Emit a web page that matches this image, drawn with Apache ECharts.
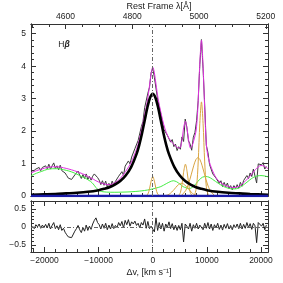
<!DOCTYPE html>
<html><head><meta charset="utf-8">
<script src="https://cdn.jsdelivr.net/npm/echarts@6.0.0/dist/echarts.min.js"></script>
<style>html,body{margin:0;padding:0;background:#fff}#c{width:283px;height:283px}</style>
</head><body><div id="c"></div>
<script>
// ---------- data ----------
const V_MIN = -22500, V_MAX = 21300;
const LAMBDA0 = 4861.33, C_KMS = 299792.458;
const FLUX_MIN = 0, FLUX_MAX = 5.3;
const RES_MIN = -0.7, RES_MAX = 0.72;

// observed spectrum sampled every 300 km/s from -22200
const VEL_START = -22200, VEL_STEP = 300;
const obsFlux = [0.75,0.70,0.83,0.78,0.88,0.78,0.88,0.83,0.93,0.84,
0.98,0.83,0.93,1.02,0.85,0.93,0.81,0.95,0.78,0.83,
0.71,0.63,0.55,0.51,0.51,0.54,0.65,0.70,0.77,0.64,
0.54,0.66,0.54,0.68,0.51,0.60,0.49,0.61,0.68,0.73,
0.57,0.49,0.35,0.47,0.33,0.46,0.27,0.39,0.29,0.46,
0.34,0.45,0.43,0.61,0.57,0.75,0.64,0.92,0.87,1.08,
0.99,1.20,1.25,1.46,1.48,1.71,1.77,2.14,2.30,2.72,
2.71,3.17,3.35,3.80,3.94,3.66,3.70,2.98,2.94,2.52,
2.46,2.04,2.08,1.87,1.92,1.66,1.74,1.52,1.60,1.40,
1.52,1.44,1.82,1.68,2.37,2.12,1.70,1.60,1.41,1.81,
1.96,2.32,2.94,4.05,4.82,3.92,2.80,1.56,1.34,0.97,
0.97,0.68,0.72,0.55,0.60,0.39,0.47,0.29,0.42,0.29,
0.40,0.23,0.32,0.19,0.32,0.23,0.35,0.24,0.42,0.30,
0.48,0.42,0.63,0.54,0.71,0.60,0.83,0.83,0.40,0.99,
0.99,0.96,1.03,0.83,0.91];
const residual = [0.02,-0.05,0.06,0.00,0.08,-0.04,0.05,-0.02,0.07,-0.03,
0.10,-0.06,0.04,0.12,-0.05,0.03,-0.08,0.06,-0.10,-0.04,
-0.15,-0.22,-0.28,-0.31,-0.30,-0.25,-0.12,-0.05,0.04,-0.08,
-0.16,-0.02,-0.12,0.05,-0.10,0.02,-0.07,0.08,0.18,0.25,
0.12,0.06,-0.06,0.08,-0.04,0.10,-0.08,0.05,-0.06,0.09,
-0.05,0.04,-0.02,0.12,0.03,0.15,-0.03,0.18,0.06,0.20,
0.02,0.14,0.08,0.16,0.04,0.10,-0.03,0.12,0.05,0.22,
-0.04,0.15,-0.05,0.02,-0.03,-0.14,0.25,-0.10,0.12,-0.06,
0.10,-0.12,0.08,-0.02,0.14,-0.05,0.09,-0.08,0.05,-0.10,
0.04,-0.08,0.10,-0.42,0.08,0.02,-0.06,0.10,-0.12,0.06,
-0.04,0.10,-0.06,0.05,0.02,-0.08,0.10,-0.04,0.12,-0.06,
0.08,-0.10,0.06,-0.03,0.10,-0.07,0.05,-0.09,0.07,-0.04,
0.09,-0.06,0.04,-0.08,0.06,-0.03,0.08,-0.05,0.10,-0.06,
0.07,-0.04,0.12,-0.02,0.09,-0.07,0.10,0.03,-0.44,0.12,
0.08,0.02,0.10,-0.08,0.05];

// total model (magenta)
const totalVel = [-22500,-21500,-20500,-19500,-18500,-17500,-16500,-15500,-14500,-13500,-12500,-11500,-11000,-10500,-10000,-9000,-8000,-7000,-6000,-5000,-4000,-3000,-2500,-2000,-1500,-1000,-600,-300,0,300,600,1000,1500,2000,2500,3000,3500,4000,4500,5000,5400,5700,6043,6350,6650,6950,7250,7600,8000,8300,8600,9005,9300,9600,9900,10200,10600,11000,11500,12000,13000,14000,15000,16000,17000,18000,19000,20000,20600,21300];
const totalFlux = [0.71,0.78,0.83,0.88,0.90,0.90,0.87,0.83,0.78,0.72,0.65,0.56,0.52,0.47,0.43,0.37,0.35,0.41,0.54,0.76,1.03,1.44,1.73,2.09,2.50,2.92,3.40,3.78,3.97,3.80,3.45,2.99,2.58,2.22,1.96,1.78,1.66,1.58,1.50,1.48,1.72,2.10,2.30,2.06,1.70,1.48,1.53,1.72,2.00,2.60,3.75,4.80,4.00,2.70,1.60,1.22,0.98,0.80,0.62,0.50,0.36,0.29,0.26,0.30,0.44,0.62,0.82,0.94,0.92,0.84];

// broad H-beta (black)
const broadVel = [-22500,-20000,-18000,-16000,-14000,-12000,-10000,-9000,-8000,-7000,-6000,-5000,-4000,-3000,-2500,-2000,-1500,-1000,-500,0,500,1000,1500,2000,2500,3000,4000,5000,6000,7000,8000,9000,10000,12000,14000,16000,18000,21300];
const broadFlux = [0.04,0.05,0.06,0.08,0.10,0.13,0.18,0.22,0.27,0.35,0.46,0.63,0.89,1.29,1.57,1.92,2.32,2.72,3.03,3.15,3.03,2.72,2.32,1.92,1.57,1.29,0.89,0.63,0.46,0.35,0.27,0.22,0.18,0.13,0.10,0.08,0.06,0.04];

// Fe II template (green)
const feVel = [-22500,-21500,-20500,-19500,-18500,-17500,-16500,-15500,-14500,-13500,-12500,-11500,-11000,-10500,-10000,-9500,-8500,-7000,-5500,-4000,-2500,-1500,-500,500,1500,2500,3200,3800,4400,5000,5600,6200,6800,7400,8000,8600,9200,9800,10400,11000,11600,12200,12800,13400,14000,14600,15200,15800,16400,17000,17600,18200,18800,19400,20000,20600,21300];
const feFlux = [0.62,0.70,0.76,0.82,0.84,0.84,0.81,0.77,0.71,0.63,0.55,0.45,0.37,0.26,0.18,0.14,0.12,0.115,0.12,0.13,0.15,0.17,0.20,0.24,0.29,0.38,0.44,0.47,0.44,0.37,0.29,0.25,0.23,0.28,0.38,0.50,0.58,0.60,0.58,0.52,0.45,0.38,0.32,0.27,0.24,0.22,0.22,0.24,0.30,0.37,0.45,0.53,0.59,0.62,0.63,0.62,0.59];

// narrow / [OIII] components (orange)
const hbNarrowVel = [-1300,-900,-600,-300,0,300,600,900,1300];
const hbNarrowFlux = [0,0.06,0.22,0.46,0.60,0.46,0.22,0.06,0];
const o3aNarrowVel = [4700,5100,5400,5700,6040,6350,6650,6950,7350];
const o3aNarrowFlux = [0,0.10,0.35,0.73,0.98,0.75,0.36,0.10,0];
const o3aWingVel = [2100,3000,3500,4000,4500,5000,5300,5700,6100,6600,7100,7600,8500];
const o3aWingFlux = [0,0.05,0.12,0.21,0.31,0.38,0.39,0.37,0.31,0.22,0.12,0.05,0];
const o3bNarrowVel = [7700,8100,8400,8700,9005,9300,9600,9900,10300];
const o3bNarrowFlux = [0,0.29,1.05,2.24,2.90,2.24,1.05,0.29,0];
const o3bWingVel = [5200,6100,6600,7100,7600,8000,8350,8700,9100,9600,10100,10600,11500];
const o3bWingFlux = [0,0.17,0.37,0.65,0.95,1.13,1.18,1.13,0.95,0.65,0.37,0.17,0];

// continuum (blue)
const contVel = [V_MIN, V_MAX];
const contFlux = [0, 0];

// ---------- build ----------
const pairs = (xs, ys) => xs.map((x, i) => [x, ys[i]]);
const obsVel = obsFlux.map((_, i) => VEL_START + i * VEL_STEP);
const lamMin = LAMBDA0 * (1 + V_MIN / C_KMS), lamMax = LAMBDA0 * (1 + V_MAX / C_KMS);

const FONT = 'Liberation Sans';
const AX = '#333';
const lbl = {fontFamily: FONT, fontSize: 8.5, color: '#222'};
const minus = s => String(s).replace('-', '\u2212');
const isMult = (v, m) => Math.abs(v / m - Math.round(v / m)) < 1e-6;

function xAx(grid, pos, min, max, step, len, labelStep, margin) {
  return {
    type: 'value', gridIndex: grid, position: pos, min, max,
    minInterval: step, maxInterval: step, splitNumber: Math.round((max - min) / step),
    axisLine: {show: true, onZero: false, lineStyle: {color: AX, width: 1}},
    axisTick: {show: true, inside: true, length: len, lineStyle: {color: AX}},
    splitLine: {show: false},
    axisLabel: labelStep ? Object.assign({show: true, margin: margin,
      formatter: v => isMult(v, labelStep) ? minus(Math.round(v)) : ''}, lbl) : {show: false}
  };
}
function yAx(grid, pos, min, max, step, len, labelStep) {
  return {
    type: 'value', gridIndex: grid, position: pos, min, max,
    minInterval: step, maxInterval: step, splitNumber: Math.round((max - min) / step),
    axisLine: {show: true, onZero: false, lineStyle: {color: AX, width: 1}},
    axisTick: {show: true, inside: true, length: len, lineStyle: {color: AX}},
    splitLine: {show: false},
    axisLabel: labelStep ? Object.assign({show: true, margin: 5,
      formatter: v => isMult(v, labelStep) ? minus(+v.toFixed(1)) : ''}, lbl) : {show: false}
  };
}

const xAxis = [
  xAx(0, 'bottom', V_MIN, V_MAX, 2000, 3),
  xAx(0, 'bottom', V_MIN, V_MAX, 10000, 5),
  xAx(0, 'top', lamMin, lamMax, 50, 3),
  xAx(0, 'top', lamMin, lamMax, 200, 5, 200, 3),
  xAx(1, 'top', V_MIN, V_MAX, 2000, 3),
  xAx(1, 'top', V_MIN, V_MAX, 10000, 5),
  xAx(1, 'bottom', V_MIN, V_MAX, 2000, 3),
  xAx(1, 'bottom', V_MIN, V_MAX, 10000, 5, 10000, 4)
];
const yAxis = [
  yAx(0, 'left', FLUX_MIN, FLUX_MAX, 1, 5, 1),
  yAx(0, 'left', FLUX_MIN, FLUX_MAX, 0.2, 3),
  yAx(0, 'right', FLUX_MIN, FLUX_MAX, 1, 5),
  yAx(0, 'right', FLUX_MIN, FLUX_MAX, 0.2, 3),
  yAx(1, 'left', RES_MIN, RES_MAX, 0.5, 5, 0.5),
  yAx(1, 'left', RES_MIN, RES_MAX, 0.1, 3),
  yAx(1, 'right', RES_MIN, RES_MAX, 0.5, 5),
  yAx(1, 'right', RES_MIN, RES_MAX, 0.1, 3)
];

const dashDot = {color: '#666', width: 1, type: [4, 2, 1, 2]};
function line(name, xs, ys, color, width, extra) {
  return Object.assign({
    name, type: 'line', xAxisIndex: 1, yAxisIndex: 0, data: pairs(xs, ys),
    showSymbol: false, symbol: 'none', smooth: 0.3, silent: true,
    lineStyle: {color, width}, z: 3
  }, extra || {});
}
const ORANGE = '#d9a441';
const series = [
  line('obs', obsVel, obsFlux, '#3a3a3a', 1, {smooth: false,
    markLine: {silent: true, symbol: 'none', label: {show: false}, lineStyle: dashDot, data: [{xAxis: 0}]}}),
  line('total', totalVel, totalFlux, '#e032e0', 1),
  line('fe', feVel, feFlux, '#44ee44', 1),
  line('hbn', hbNarrowVel, hbNarrowFlux, ORANGE, 1),
  line('o3an', o3aNarrowVel, o3aNarrowFlux, ORANGE, 1),
  line('o3aw', o3aWingVel, o3aWingFlux, ORANGE, 1),
  line('o3bn', o3bNarrowVel, o3bNarrowFlux, ORANGE, 1),
  line('o3bw', o3bWingVel, o3bWingFlux, ORANGE, 1),
  line('broad', broadVel, broadFlux, '#000', 2.6),
  line('cont', contVel, contFlux, '#1a1aa8', 2.5, {smooth: false}),
  {
    name: 'resid', type: 'line', xAxisIndex: 7, yAxisIndex: 4, data: pairs(obsVel, residual),
    showSymbol: false, symbol: 'none', silent: true, lineStyle: {color: '#222', width: 1}, z: 3,
    markLine: {silent: true, symbol: 'none', label: {show: false}, lineStyle: dashDot,
      data: [{xAxis: 0}, {yAxis: 0}]}
  }
];

const chart = echarts.init(document.getElementById('c'), null, {renderer: 'canvas'});
chart.setOption({
  animation: false,
  backgroundColor: '#fff',
  grid: [
    {left: 31, top: 24, width: 237, height: 172, containLabel: false},
    {left: 31, top: 201, width: 237, height: 51, containLabel: false}
  ],
  xAxis, yAxis, series,
  graphic: [
    {type: 'text', x: 159, y: 7, silent: true,
     style: {text: 'Rest Frame \u03bb[\u00c5]', font: '9px ' + FONT, fill: '#222', align: 'center', verticalAlign: 'middle'}},
    {type: 'text', x: 64, y: 45, silent: true,
     style: {text: 'H{b|\u03b2}', font: '8.5px ' + FONT, fill: '#222', align: 'center', verticalAlign: 'middle',
       rich: {b: {fontStyle: 'italic', fontWeight: 'bold', fontFamily: FONT, fontSize: 8.5, fill: '#222'}}}},
    {type: 'text', x: 149, y: 273, silent: true,
     style: {text: '\u0394v, [km s\u207b\u00b9]', font: '9px ' + FONT, fill: '#222', align: 'center', verticalAlign: 'middle'}}
  ]
});
</script></body></html>
